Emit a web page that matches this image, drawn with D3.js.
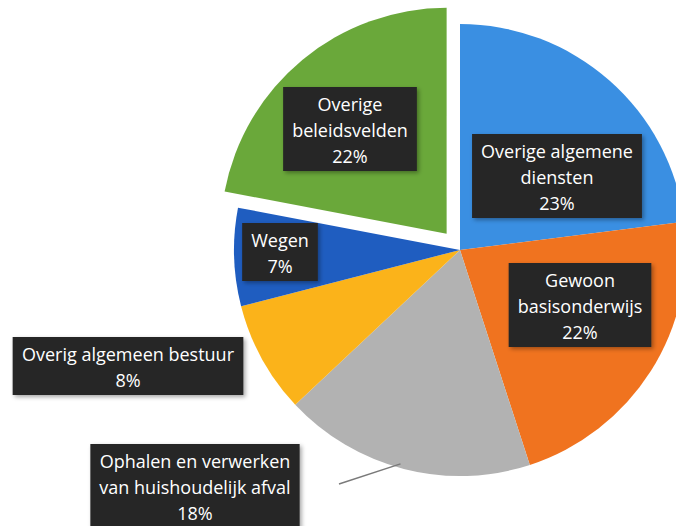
<!DOCTYPE html>
<html lang="nl">
<head>
	<meta charset="utf-8">
	<title>Verdeling uitgaven</title>
	<script src="https://d3js.org/d3.v7.min.js"></script>
	<style>
		body { margin: 0; background: #fff; }
		text { font-family: "Open Sans", "Noto Sans", sans-serif; }
	</style>
</head>
<body>
	<script>
	// Data, clockwise from 12 o'clock
	var categories = [
		"Overige algemene diensten",
		"Gewoon basisonderwijs",
		"Ophalen en verwerken van huishoudelijk afval",
		"Overig algemeen bestuur",
		"Wegen",
		"Overige beleidsvelden"
	];
	var shares = [23, 22, 18, 8, 7, 22];
	// how each label is broken into lines
	var labelLines = [
		["Overige algemene", "diensten"],
		["Gewoon", "basisonderwijs"],
		["Ophalen en verwerken", "van huishoudelijk afval"],
		["Overig algemeen bestuur"],
		["Wegen"],
		["Overige", "beleidsvelden"]
	];

	// Layout
	var w = 676, h = 526;
	var cx = 460, cy = 250, R = 226;
	var colors = ["#3a8fe2", "#f0731f", "#b2b2b2", "#fbb31a", "#1f5dc0", "#6aa83a"];
	var explode = [0, 0, 0, 0, 0, 21];
	// label box centre, relative to the pie centre
	var labelPos = [[97, -74], [120, 55], [-265, 236], [-332, 116], [-180, 2], [-110, -121]];
	var lineH = 26;

	var svg = d3.select("body")
		.append("svg")
		.attr("width", w)
		.attr("height", h);

	var defs = svg.append("defs");
	var shadow = defs.append("filter").attr("id", "shadow")
		.attr("x", "-10%").attr("y", "-10%").attr("width", "130%").attr("height", "130%");
	shadow.append("feDropShadow")
		.attr("dx", 2).attr("dy", 2).attr("stdDeviation", 2)
		.attr("flood-color", "#000").attr("flood-opacity", 0.35);

	var g = svg.append("g").attr("transform", "translate(" + cx + "," + cy + ")");

	var pie = d3.pie().sort(null).value(function(d){ return d; });
	var arcs = pie(shares);
	var arc = d3.arc().innerRadius(0).outerRadius(R);

	function offset(d, i) {
		var a = (d.startAngle + d.endAngle) / 2;
		return [Math.sin(a) * explode[i], -Math.cos(a) * explode[i]];
	}

	// Slices
	g.selectAll("path.slice")
		.data(arcs)
		.enter()
		.append("path")
		.attr("class", "slice")
		.attr("d", arc)
		.attr("transform", function(d, i){
			var o = offset(d, i);
			return "translate(" + o[0] + "," + o[1] + ")";
		})
		.attr("fill", function(d, i){ return colors[i]; });

	// Leader line for the grey slice
	var gi = 2;
	var ga = (arcs[gi].startAngle + arcs[gi].endAngle) / 2 + 0.02;
	g.append("line")
		.attr("x1", Math.sin(ga) * (R - 4))
		.attr("y1", -Math.cos(ga) * (R - 4))
		.attr("x2", labelPos[gi][0] + 144)
		.attr("y2", labelPos[gi][1] - 2)
		.attr("stroke", "#7a7a7a")
		.attr("stroke-width", 1.5);

	// Labels
	var labels = g.selectAll("g.label")
		.data(arcs)
		.enter()
		.append("g")
		.attr("class", "label")
		.attr("transform", function(d, i){
			return "translate(" + labelPos[i][0] + "," + labelPos[i][1] + ")";
		});

	labels.each(function(d, i){
		var lab = d3.select(this);
		var lines = labelLines[i].concat([d.data + "%"]);
		var boxH = lines.length * lineH + 6;
		var rect = lab.append("rect").attr("fill", "#262626").attr("filter", "url(#shadow)");
		var txt = lab.append("text")
			.attr("text-anchor", "middle")
			.attr("fill", "#fff")
			.style("font-size", "18px");
		lines.forEach(function(s, k){
			txt.append("tspan")
				.attr("x", 0)
				.attr("y", -boxH / 2 + 24 + k * lineH)
				.text(s);
		});
		var bw = txt.node().getBBox().width + 18;
		rect.attr("x", -bw / 2).attr("y", -boxH / 2)
			.attr("width", bw).attr("height", boxH);
	});
	</script>
</body>
</html>
